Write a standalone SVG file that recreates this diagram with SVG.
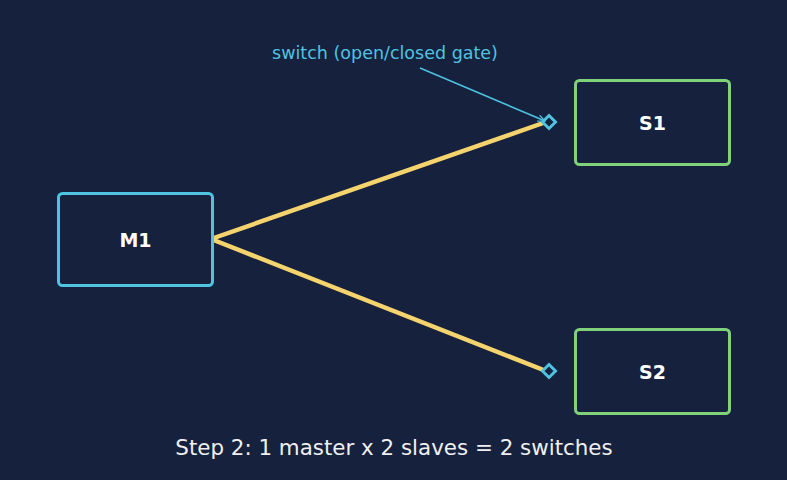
<svg xmlns="http://www.w3.org/2000/svg" width="787" height="480" viewBox="0 0 787 480">
<defs>
<marker id="arr" viewBox="0 0 10 10" refX="9" refY="5" markerWidth="8" markerHeight="8" orient="auto" markerUnits="userSpaceOnUse">
<path d="M0,1 L9,5 L0,9" fill="none" stroke="#4cc3e0" stroke-width="1.5"/>
</marker>
<style>
.box{fill:#16213e;stroke-width:3}
.m{stroke:#4fc3e0}
.s{stroke:#7fd17a}
.lbl{font-family:"DejaVu Sans",sans-serif;font-weight:bold;font-size:19px;fill:#ffffff;text-anchor:middle;dominant-baseline:central}
.wire{stroke:#f5d46e;stroke-width:4.5;fill:none;stroke-linecap:round}
.sw{fill:#16213e;stroke:#4fc3e0;stroke-width:3}
</style>
</defs>
<rect width="787" height="480" fill="#16213e"/>
<g id="connectors">
<line class="wire" x1="211" y1="239" x2="546" y2="122"/>
<line class="wire" x1="211" y1="239" x2="546" y2="371"/>
<path class="sw" d="M549,115.500 L555.500,122 L549,128.500 L542.500,122 Z"/>
<path class="sw" d="M549,364.500 L555.500,371 L549,377.500 L542.500,371 Z"/>
<line x1="420" y1="68" x2="545" y2="121" stroke="#4cc3e0" stroke-width="1.5" marker-end="url(#arr)"/>
</g>
<g id="M1">
<rect class="box m" x="58.500" y="193.500" width="154" height="92" rx="4"/>
<text class="lbl" x="135.500" y="239.500">M1</text>
</g>
<g id="S1">
<rect class="box s" x="575.500" y="80.500" width="154" height="84" rx="4"/>
<text class="lbl" x="652.500" y="122.500">S1</text>
</g>
<g id="S2">
<rect class="box s" x="575.500" y="329.500" width="154" height="84" rx="4"/>
<text class="lbl" x="652.500" y="371.500">S2</text>
</g>
<text x="385" y="59" font-family="DejaVu Sans, sans-serif" font-size="17.5" fill="#4fc3e0" text-anchor="middle">switch (open/closed gate)</text>
<text x="394" y="455" font-family="DejaVu Sans, sans-serif" font-size="21.4" fill="#f0f0f0" text-anchor="middle">Step 2: 1 master x 2 slaves = 2 switches</text>
</svg>
